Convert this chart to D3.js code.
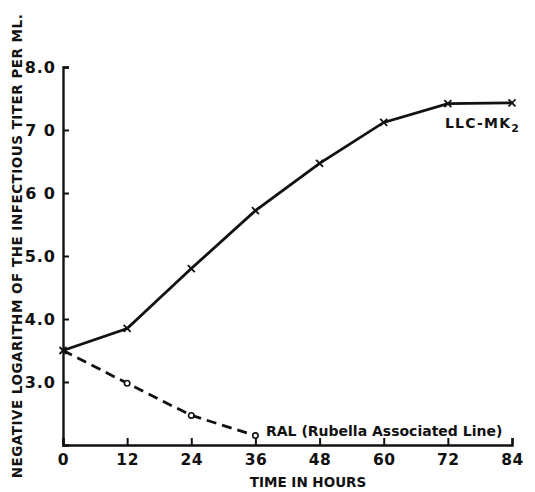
<!DOCTYPE html>
<html><head><meta charset="utf-8">
<script src="https://cdn.jsdelivr.net/npm/d3@7"></script>
<style>body{margin:0;background:#fff}svg{display:block}text{font-family:"DejaVu Sans",sans-serif;fill:#111}</style>
</head><body><svg id="c" width="535" height="492"></svg>
<script>
const hours = [0, 12, 24, 36, 48, 60, 72, 84];
const llcValues = [3.5, 3.85, 4.8, 5.72, 6.47, 7.12, 7.42, 7.43];
const ralHours = [0, 12, 24, 36];
const ralValues = [3.5, 2.98, 2.47, 2.15];
const yTicks = [3, 4, 5, 6, 7, 8];
const yTickLabels = ["3.0", "4.0", "5.0", "6 0", "7 0", "8.0"];

const svg = d3.select("#c");
const x = d3.scaleLinear().domain([0, 84]).range([63, 512]);
const y = d3.scaleLinear().domain([2, 8]).range([445, 67]);

const xAxis = d3.axisBottom(x).tickValues(hours).tickSize(-7).tickPadding(9).tickFormat(d => d);
const gx = svg.append("g").attr("transform", `translate(0,${y(2)})`).call(xAxis);
gx.select(".domain").attr("stroke", "#111").attr("stroke-width", 2.4);
gx.selectAll(".tick line").attr("stroke", "#111").attr("stroke-width", 2);
gx.selectAll(".tick text").attr("font-size", 15.5).attr("font-weight", "bold").attr("fill", "#111").attr("letter-spacing", 0.5);

const yAxis = d3.axisLeft(y).tickValues(yTicks).tickSize(-6).tickPadding(7).tickFormat((d, i) => yTickLabels[i]);
const gy = svg.append("g").attr("transform", `translate(${x(0)},0)`).call(yAxis);
gy.select(".domain").attr("stroke", "#111").attr("stroke-width", 2.4);
gy.selectAll(".tick line").attr("stroke", "#111").attr("stroke-width", 2);
gy.selectAll(".tick text").attr("font-size", 16).attr("font-weight", "bold").attr("fill", "#111").attr("letter-spacing", 1);

const llc = hours.map((h, i) => [h, llcValues[i]]);
const ral = ralHours.map((h, i) => [h, ralValues[i]]);
const line = d3.line().x(d => x(d[0])).y(d => y(d[1]));

svg.append("path").datum(llc).attr("d", line).attr("fill", "none").attr("stroke", "#111").attr("stroke-width", 2.8);
svg.append("path").datum(ral).attr("d", line).attr("fill", "none").attr("stroke", "#111").attr("stroke-width", 2.8).attr("stroke-dasharray", "10,6");

svg.selectAll(".xm").data(llc).join("path").attr("class", "xm")
  .attr("transform", d => `translate(${x(d[0])},${y(d[1])})`)
  .attr("d", "M-3.5,-3.5L3.5,3.5M-3.5,3.5L3.5,-3.5").attr("stroke", "#111").attr("stroke-width", 1.8);
svg.selectAll(".om").data(ral.slice(1)).join("circle").attr("class", "om")
  .attr("cx", d => x(d[0])).attr("cy", d => y(d[1])).attr("r", 2.7)
  .attr("fill", "#fff").attr("stroke", "#111").attr("stroke-width", 1.6);

const lab = svg.append("text").attr("x", 445).attr("y", 128).attr("font-size", 14).attr("font-weight", "bold").attr("letter-spacing", 1.2);
lab.append("tspan").text("LLC-MK");
lab.append("tspan").attr("dy", 4).attr("font-size", 11).text("2");

svg.append("text").attr("x", 266).attr("y", 436).attr("font-size", 14).attr("font-weight", "bold")
  .text("RAL (Rubella Associated Line)");

svg.append("text").attr("x", 308).attr("y", 487).attr("text-anchor", "middle").attr("font-size", 13.5).attr("font-weight", "bold")
  .text("TIME IN HOURS");

svg.append("text").attr("transform", "translate(22,246) rotate(-90)").attr("text-anchor", "middle")
  .attr("font-size", 13.5).attr("font-weight", "bold").attr("letter-spacing", 0.5)
  .text("NEGATIVE LOGARITHM OF THE INFECTIOUS TITER PER ML.");
</script></body></html>
